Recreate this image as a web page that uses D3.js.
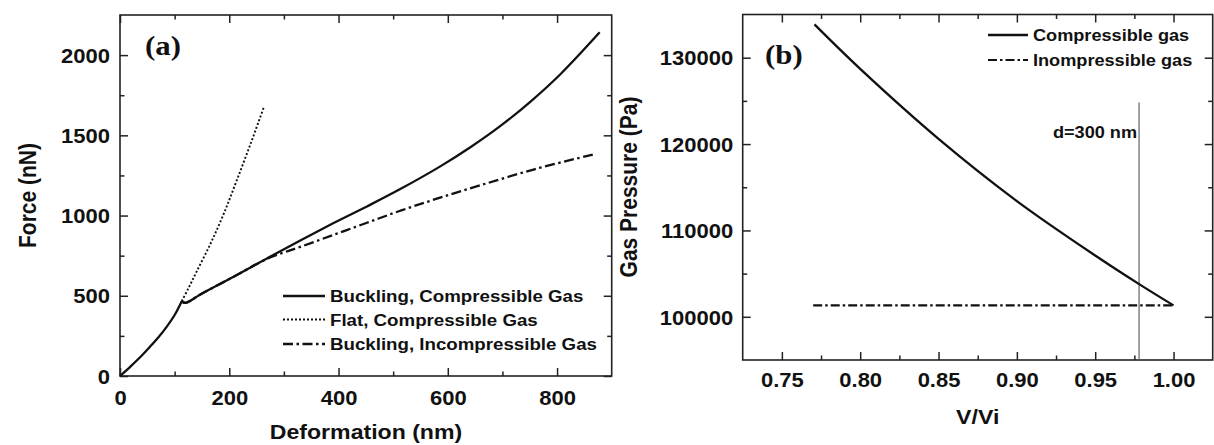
<!DOCTYPE html>
<html>
<head>
<meta charset="utf-8">
<script src="https://cdn.jsdelivr.net/npm/d3@7"></script>
<style>
  html, body { margin: 0; padding: 0; background: #fff; }
  svg { display: block; }
  text { font-family: "Liberation Sans", Arial, Helvetica, sans-serif; font-weight: bold; fill: #111; }
</style>
</head>
<body>
<svg id="chart" width="1214" height="445"></svg>
<script>
// ---------- Panel (a) data ----------
const initialDef   = [0, 20, 40, 55, 70, 85, 100, 113];
const initialForce = [0, 62, 128, 183, 240, 305, 380, 466];

const buckCompDef   = [113, 120, 147, 208, 269, 330, 391, 452, 513, 587, 642, 697, 752, 807, 878];
const buckCompForce = [466, 456, 508, 619, 733, 845, 953, 1057, 1165, 1308, 1427, 1560, 1712, 1884, 2142];

const flatDef   = [113, 125, 140, 165, 190, 214, 240, 263];
const flatForce = [466, 545, 649, 820, 1012, 1222, 1456, 1673];

const buckIncDef   = [113, 120, 147, 208, 269, 300, 330, 391, 452, 513, 580, 660, 760, 867];
const buckIncForce = [466, 456, 508, 619, 730, 770, 805, 880, 955, 1030, 1105, 1189, 1290, 1381];

const legendA = ["Buckling, Compressible Gas", "Flat, Compressible Gas", "Buckling, Incompressible Gas"];
const xTicksA = [0, 200, 400, 600, 800];
const xMinorA = [100, 300, 500, 700];
const yTicksA = [0, 500, 1000, 1500, 2000];
const yMinorA = [250, 750, 1250, 1750];

// ---------- Panel (b) data ----------
const vRatioComp = [0.7708, 0.80, 0.85, 0.90, 0.95, 0.9788, 1.00];
const pressComp  = [133850, 128700, 120600, 113400, 107100, 103700, 101325];

const vRatioInc = [0.77, 1.00];
const pressInc  = [101325, 101325];

const markerV = 0.978;
const markerTopP = 124800;
const markerLabel = "d=300 nm";

const legendB = ["Compressible gas", "Inompressible gas"];
const xTicksB = [0.75, 0.80, 0.85, 0.90, 0.95, 1.00];
const xMinorB = [0.775, 0.825, 0.875, 0.925, 0.975];
const yTicksB = [100000, 110000, 120000, 130000];
const yMinorB = [105000, 115000, 125000];

// ---------- Drawing ----------
const svg = d3.select("#chart");
const STRETCH = 1.1;
const frameColor = "#222";

const A = { x0: 120, x1: 611.7, y0: 15, y1: 376 };
const B = { x0: 742.7, x1: 1212.7, y0: 14.5, y1: 360 };

const xA = d3.scaleLinear().domain([0, 900]).range([A.x0, A.x1]);
const yA = d3.scaleLinear().domain([0, 2250]).range([A.y1, A.y0]);
const xB = d3.scaleLinear().domain([0.725, 1.025]).range([B.x0, B.x1]);
const yB = d3.scaleLinear().domain([95000, 135000]).range([B.y1, B.y0]);

function stretchText(sel) {
  sel.attr("transform", "scale(" + STRETCH + ",1)");
}

function drawAxes(P, xs, ys, xMaj, xMin, yMaj, yMin, xFmt, yFmt, xLabelDy, yLabelGap) {
  const g = svg.append("g");
  const bx = g.append("g").attr("transform", `translate(0,${P.y1})`)
    .call(d3.axisBottom(xs).tickValues(xMaj).tickSize(-8).tickFormat(xFmt));
  bx.selectAll("text").attr("y", xLabelDy).attr("dy", 0).style("font-size", "20px").call(stretchText);
  g.append("g").attr("transform", `translate(0,${P.y1})`)
    .call(d3.axisBottom(xs).tickValues(xMin).tickSize(-4.5).tickFormat(""));
  g.append("g").attr("transform", `translate(0,${P.y0})`)
    .call(d3.axisTop(xs).tickValues(xMaj).tickSize(-8).tickFormat(""));
  g.append("g").attr("transform", `translate(0,${P.y0})`)
    .call(d3.axisTop(xs).tickValues(xMin).tickSize(-4.5).tickFormat(""));
  const ly = g.append("g").attr("transform", `translate(${P.x0},0)`)
    .call(d3.axisLeft(ys).tickValues(yMaj).tickSize(-8).tickFormat(yFmt));
  ly.selectAll("text").attr("x", -yLabelGap / STRETCH).attr("dy", "0.36em").style("font-size", "20px").call(stretchText);
  g.append("g").attr("transform", `translate(${P.x0},0)`)
    .call(d3.axisLeft(ys).tickValues(yMin).tickSize(-4.5).tickFormat(""));
  g.append("g").attr("transform", `translate(${P.x1},0)`)
    .call(d3.axisRight(ys).tickValues(yMaj).tickSize(-8).tickFormat(""));
  g.append("g").attr("transform", `translate(${P.x1},0)`)
    .call(d3.axisRight(ys).tickValues(yMin).tickSize(-4.5).tickFormat(""));

  g.selectAll(".domain").remove();
  g.selectAll(".tick line").attr("stroke", frameColor).attr("stroke-width", 1.5);
  g.selectAll(".tick text").attr("fill", "#111").style("font-family", '"Liberation Sans", Arial, sans-serif').style("font-weight", "bold");

  svg.append("rect")
    .attr("x", P.x0).attr("y", P.y0)
    .attr("width", P.x1 - P.x0).attr("height", P.y1 - P.y0)
    .attr("fill", "none").attr("stroke", frameColor).attr("stroke-width", 1.6);
}

function series(xArr, yArr) { return xArr.map((x, i) => [x, yArr[i]]); }

function stretchedText(x, y, str, size, anchor) {
  return svg.append("g").attr("transform", `translate(${x},${y}) scale(${STRETCH},1)`)
    .append("text").text(str).style("font-size", size + "px").attr("text-anchor", anchor || "start");
}

// ----- Panel (a) -----
drawAxes(A, xA, yA, xTicksA, xMinorA, yTicksA, yMinorA, d3.format("d"), d3.format("d"), 29, 10);

const lineA = d3.line().x(d => xA(d[0])).y(d => yA(d[1])).curve(d3.curveCatmullRom.alpha(0.5));

const gA = svg.append("g");
gA.append("path").attr("d", lineA(series(buckIncDef, buckIncForce))).attr("fill", "none").attr("stroke", "#111")
  .attr("stroke-width", 2.3).attr("stroke-dasharray", "10,3.5,2.5,3.5");
gA.append("path").attr("d", lineA(series(flatDef, flatForce))).attr("fill", "none").attr("stroke", "#111")
  .attr("stroke-width", 1.9).attr("stroke-dasharray", "2,2");
gA.append("path").attr("d", lineA(series(initialDef, initialForce))).attr("fill", "none").attr("stroke", "#111")
  .attr("stroke-width", 2.3);
gA.append("path").attr("d", lineA(series(buckCompDef, buckCompForce))).attr("fill", "none").attr("stroke", "#111")
  .attr("stroke-width", 2.3);

// legend (a)
const legAStyles = [
  { dash: null, w: 2.4 },
  { dash: "2,2", w: 1.9 },
  { dash: "10,3.5,2.5,3.5", w: 2.3 }
];
const legAY = [296, 319.5, 344];
legendA.forEach((name, i) => {
  svg.append("line").attr("x1", 283).attr("x2", 325).attr("y1", legAY[i]).attr("y2", legAY[i])
    .attr("stroke", "#111").attr("stroke-width", legAStyles[i].w)
    .attr("stroke-dasharray", legAStyles[i].dash);
  stretchedText(330, legAY[i] + 6, name, 17, "start");
});

// titles (a)
stretchedText(366, 438.5, "Deformation (nm)", 21, "middle");
svg.append("g").attr("transform", `translate(36,195.5) scale(${STRETCH},1) rotate(-90)`)
  .append("text").text("Force (nN)").style("font-size", "21px").attr("text-anchor", "middle");
svg.append("g").attr("transform", `translate(145,55) scale(${STRETCH},1)`)
  .append("text").text("(a)").style("font-size", "28px")
  .style("font-family", '"Liberation Serif", "Times New Roman", serif');

// ----- Panel (b) -----
drawAxes(B, xB, yB, xTicksB, xMinorB, yTicksB, yMinorB, d3.format(".2f"), d3.format("d"), 27, 9.5);

const lineB = d3.line().x(d => xB(d[0])).y(d => yB(d[1])).curve(d3.curveCatmullRom.alpha(0.5));

svg.append("line")
  .attr("x1", xB(markerV)).attr("x2", xB(markerV))
  .attr("y1", yB(markerTopP)).attr("y2", B.y1)
  .attr("stroke", "#555").attr("stroke-width", 1.1);

svg.append("path").attr("d", lineB(series(vRatioInc, pressInc))).attr("fill", "none")
  .attr("stroke", "#111").attr("stroke-width", 2.4).attr("stroke-dasharray", "9,3,2.5,3");
svg.append("path").attr("d", lineB(series(vRatioComp, pressComp))).attr("fill", "none")
  .attr("stroke", "#111").attr("stroke-width", 2.3);

stretchedText(xB(markerV) - 2, 138, markerLabel, 16.5, "end");

// legend (b)
const legBY = [35, 60];
const legBStyles = [{ dash: null, w: 2.4 }, { dash: "9,3,2.5,3", w: 2.2 }];
legendB.forEach((name, i) => {
  svg.append("line").attr("x1", 988).attr("x2", 1028).attr("y1", legBY[i]).attr("y2", legBY[i])
    .attr("stroke", "#111").attr("stroke-width", legBStyles[i].w)
    .attr("stroke-dasharray", legBStyles[i].dash);
  stretchedText(1033, legBY[i] + 6, name, 16.5, "start");
});

// titles (b)
stretchedText((B.x0 + B.x1) / 2, 424, "V/Vi", 21, "middle");
svg.append("g").attr("transform", `translate(637,187) scale(${STRETCH},1) rotate(-90)`)
  .append("text").text("Gas Pressure (Pa)").style("font-size", "21px").attr("text-anchor", "middle");
svg.append("g").attr("transform", `translate(765,64) scale(${STRETCH},1)`)
  .append("text").text("(b)").style("font-size", "28px")
  .style("font-family", '"Liberation Serif", "Times New Roman", serif');
</script>
</body>
</html>
